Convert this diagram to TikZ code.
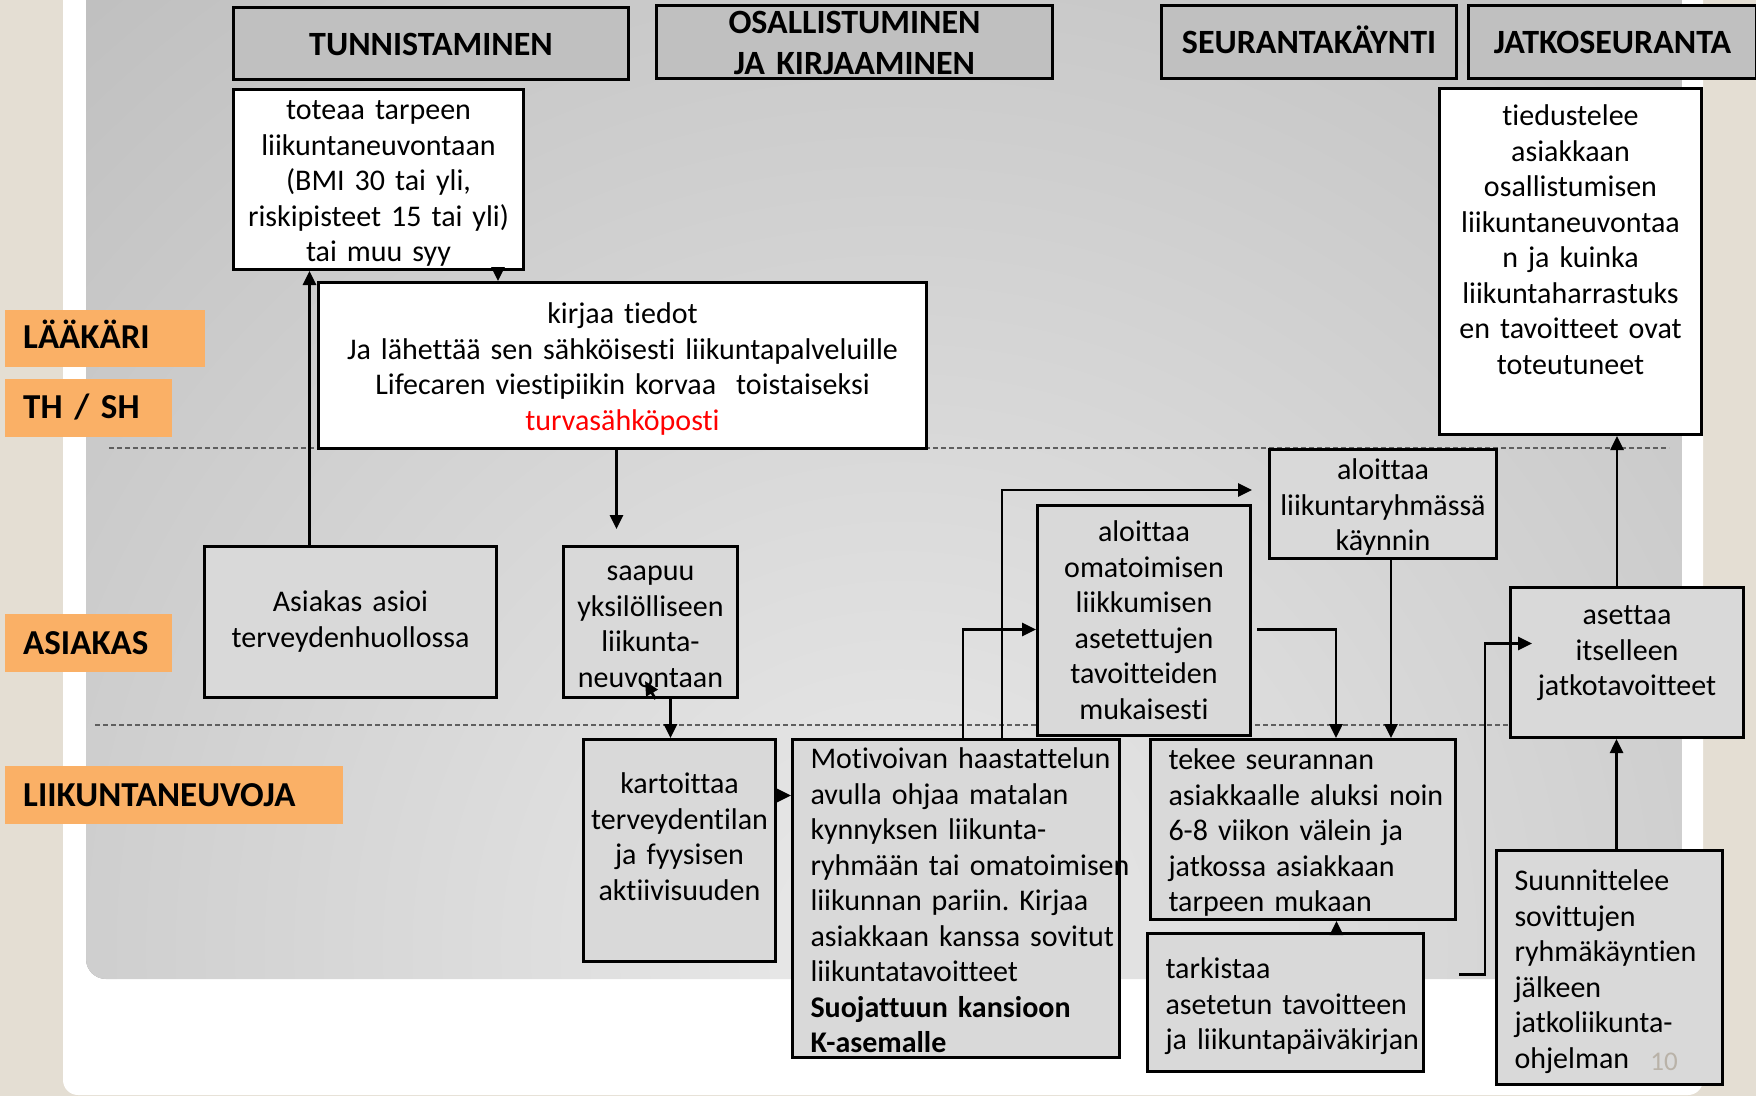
\documentclass[tikz,border=0pt]{standalone}
\usepackage{fontspec}
\setmainfont{Carlito}[Ligatures=NoCommon, WordSpace=0.75]
\frenchspacing
\usetikzlibrary{arrows.meta, positioning}

\definecolor{beige}{RGB}{228,222,211}
\definecolor{bgdark}{RGB}{163,163,163}
\definecolor{bglight}{RGB}{234,234,234}
\definecolor{headgray}{RGB}{192,192,192}
\definecolor{boxgray}{RGB}{217,217,217}
\definecolor{laneorange}{RGB}{250,176,102}
\definecolor{sepgray}{RGB}{95,95,95}
\definecolor{numgray}{RGB}{185,178,168}

\begin{document}
\begin{tikzpicture}[
    x=1pt, y=-1pt,
    header/.style={draw=black, line width=3pt, fill=headgray, anchor=north west, inner sep=0pt, align=center, font=\bfseries\fontsize{34}{41}\selectfont},
    note/.style={draw=black, line width=3pt, fill=white, anchor=north west, inner sep=0pt, align=center, font=\fontsize{30}{35.5}\selectfont},
    task/.style={note, fill=boxgray},
    lefttask/.style={task, align=left, execute at begin node={\leftskip=18pt\rightskip=-40pt plus 40pt}},
    lane/.style={fill=laneorange, anchor=north west, inner sep=0pt, align=left, font=\bfseries\fontsize{35}{40}\selectfont, execute at begin node={\leftskip=18pt}},
    arrow/.style={-{Triangle[length=14pt, width=13pt]}, line width=2.7pt},
    lanesep/.style={dash pattern=on 5pt off 3pt, line width=1.3pt, sepgray},
    pagenum/.style={font=\fontsize{27}{30}\selectfont, text=numgray}
]
\useasboundingbox (0,0) rectangle (1756,1096);

% Slide background
\fill[beige] (0,0) rectangle (1756,1096);
\fill[white, rounded corners=15pt] (63,-30) rectangle (1703,1095);
\begin{scope}
    \clip[rounded corners=20pt] (86,-30) rectangle (1682,979);
    \fill[bgdark] (86,-30) rectangle (1682,979);
    \shade[inner color=bglight, outer color=bgdark] (900,950) circle (2100pt);
\end{scope}

% Lane separators
\draw[lanesep] (109,448) -- (1669,448);
\draw[lanesep] (95,725) -- (1654,725);

% Lanes
\node[lane, text width=200pt, text height=38pt, text depth=19pt] (laakari) at (5,310) {LÄÄKÄRI};
\node[lane, text width=167pt, text height=39pt, text depth=19pt] (thsh) at (5,379) {TH / SH};
\node[lane, text width=167pt, text height=40pt, text depth=18pt] (asiakaslane) at (5,614) {ASIAKAS};
\node[lane, text width=338pt, text height=40pt, text depth=18pt] (neuvojalane) at (5,766) {LIIKUNTANEUVOJA};

% Phases
\node[header, text width=395pt, text height=48pt, text depth=24pt] (tunnistaminen) at (232,6) {TUNNISTAMINEN};
\node[header, text width=396pt, text height=28pt, text depth=45pt] (osallistuminen) at (655,4) {OSALLISTUMINEN\\JA KIRJAAMINEN};
\node[header, text width=295pt, text height=48pt, text depth=25pt] (seurantakaynti) at (1160,4) {SEURANTAKÄYNTI};
\node[header, text width=288pt, text height=48pt, text depth=25pt] (jatkoseuranta) at (1467,4) {JATKOSEURANTA};

% Laakari / TH
\node[note, text width=290pt, text height=30pt, text depth=150pt] (toteaa) at (232,88) {toteaa tarpeen\\liikuntaneuvontaan\\(BMI 30 tai yli,\\riskipisteet 15 tai yli)\\tai muu syy};
\node[note, text width=608pt, text height=41pt, text depth=125pt] (kirjaa) at (317,281) {kirjaa tiedot\\Ja lähettää sen sähköisesti liikuntapalveluille\\Lifecaren viestipiikin korvaa \ toistaiseksi\\\textcolor{red}{turvasähköposti}};
\node[note, text width=262pt, text height=37pt, text depth=309pt] (tiedustelee) at (1438,87) {tiedustelee\\asiakkaan\\osallistumisen\\liikuntaneuvontaa\\n ja kuinka\\liikuntaharrastuks\\en tavoitteet ovat\\toteutuneet};

% Asiakas
\node[task, text width=292pt, text height=65pt, text depth=86pt] (asioi) at (203,545) {Asiakas asioi\\terveydenhuollossa};
\node[task, text width=174pt, text height=34pt, text depth=117pt] (saapuu) at (562,545) {saapuu\\yksilölliseen\\liikunta-\\neuvontaan};
\node[task, text width=227pt, text height=30pt, text depth=79pt] (ryhma) at (1268,448) {aloittaa\\liikuntaryhmässä\\käynnin};
\node[task, text width=213pt, text height=36pt, text depth=194pt] (omatoiminen) at (1036,504) {aloittaa\\omatoimisen\\liikkumisen\\asetettujen\\tavoitteiden\\mukaisesti};
\node[task, text width=233pt, text height=37pt, text depth=113pt] (asettaa) at (1509,586) {asettaa\\itselleen\\jatkotavoitteet};

% Liikuntaneuvoja
\node[task, text width=192pt, text height=54pt, text depth=168pt] (kartoittaa) at (582,738) {kartoittaa\\terveydentilan\\ja fyysisen\\aktiivisuuden};
\node[lefttask, text width=327pt, text height=29pt, text depth=289pt] (motivoivan) at (791,738) {Motivoivan haastattelun\\avulla ohjaa matalan\\kynnyksen liikunta-\\ryhmään tai omatoimisen\\liikunnan pariin. Kirjaa\\asiakkaan kanssa sovitut\\liikuntatavoitteet\\\textbf{Suojattuun kansioon}\\\textbf{K-asemalle}};
\node[lefttask, text width=305pt, text height=30pt, text depth=150pt] (tekee) at (1149,738) {tekee seurannan\\asiakkaalle aluksi noin\\6-8 viikon välein ja\\jatkossa asiakkaan\\tarpeen mukaan};
\node[lefttask, text width=276pt, text height=45pt, text depth=93pt] (tarkistaa) at (1146,932) {tarkistaa\\asetetun tavoitteen\\ja liikuntapäiväkirjan};
\node[lefttask, text width=226pt, text height=40pt, text depth=194pt] (suunnittelee) at (1495,849) {Suunnittelee\\sovittujen\\ryhmäkäyntien\\jälkeen\\jatkoliikunta-\\ohjelman};

% Connectors
\draw[arrow] ([xshift=-41pt]asioi.north) -- ([xshift=-41pt]asioi.north |- toteaa.south);
\draw[arrow] ([xshift=-27pt]toteaa.south east) -- ([xshift=-27pt]toteaa.south east |- kirjaa.north);
\draw[arrow, shorten >=16pt] ([xshift=-6pt]kirjaa.south) -- ([xshift=-6pt]kirjaa.south |- saapuu.north);
\draw[arrow] ([xshift=20pt]saapuu.south) -- ([xshift=20pt]saapuu.south |- kartoittaa.north);
\coordinate (stray) at (645,681);
\draw[arrow] ([xshift=5pt]saapuu.south) -- (stray);
\draw[arrow] ([yshift=55pt]kartoittaa.east) -- ([yshift=55pt]kartoittaa.east -| motivoivan.west);
\draw[arrow] ([xshift=7pt]motivoivan.north) |- ([yshift=-9pt]omatoiminen.west);
\draw[arrow, shorten >=16pt] ([xshift=46pt]motivoivan.north) |- ([yshift=14pt]ryhma.west);
\draw[arrow, shorten <=5pt] ([yshift=-9pt]omatoiminen.east) -| ([xshift=33pt]tekee.north);
\draw[arrow] ([xshift=8pt]ryhma.south) -- ([xshift=8pt]ryhma.south |- tekee.north);
\draw[arrow] ([xshift=51pt]tarkistaa.north) -- ([xshift=51pt]tarkistaa.north |- tekee.south);
\draw[arrow] ([xshift=34pt, yshift=28pt]tarkistaa.east) -- ++(26,0) |- ([xshift=23pt, yshift=19pt]asettaa.west);
\draw[arrow] ([xshift=7pt]suunnittelee.north) -- ([xshift=7pt]suunnittelee.north |- asettaa.south);
\draw[arrow] ([xshift=-10pt]asettaa.north) -- ([xshift=-10pt]asettaa.north |- tiedustelee.south);

% Page number
\node[pagenum] (sivu) at (1664,1062) {10};

\end{tikzpicture}
\end{document}
